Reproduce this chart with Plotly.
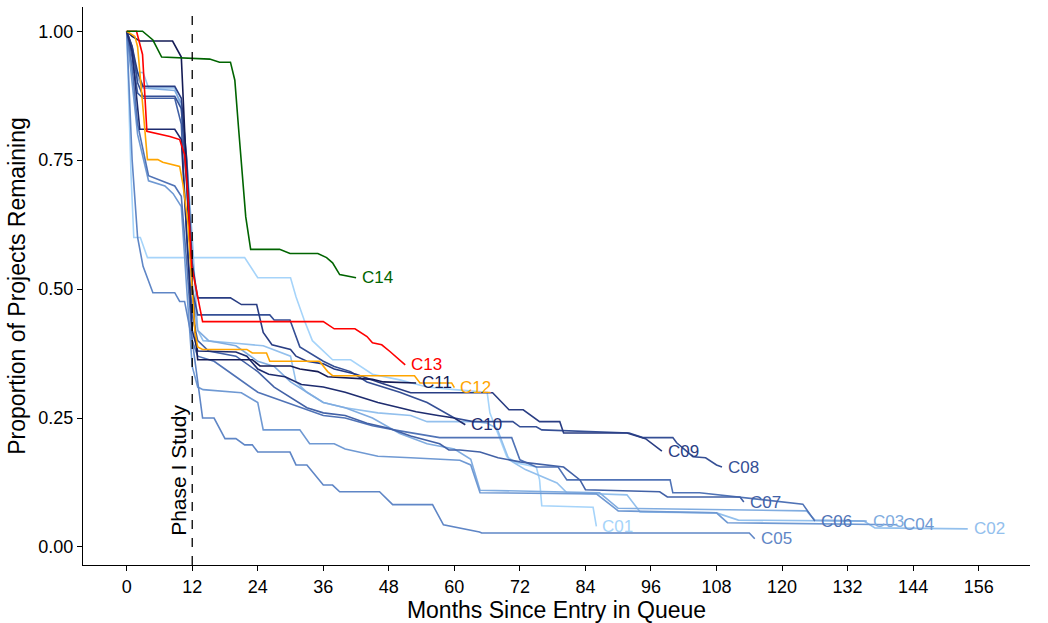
import plotly.graph_objects as go

# ---------------- data (months since entry, proportion remaining) ----------------
c01_months = [0, 0.8, 1.3, 2.5, 3.8, 21.6, 24, 30, 31, 32.5, 34, 37.7, 41, 45, 50, 55, 60, 66, 66.5, 69.6, 71.4, 75, 75.6, 76, 85.4, 86]
c01_values = [1, 0.72, 0.60, 0.60, 0.561, 0.561, 0.522, 0.522, 0.485, 0.44, 0.40, 0.363, 0.363, 0.335, 0.324, 0.31, 0.305, 0.30, 0.26, 0.175, 0.163, 0.155, 0.13, 0.08, 0.077, 0.04]

c02_months = [0, 1, 3, 4, 8.8, 10, 11, 12, 13, 14, 20, 25, 30, 31, 33, 36, 40, 46, 52, 55, 64, 66, 67.8, 70, 73, 78.8, 80.6, 91.6, 94, 108, 112, 135, 137, 154]
c02_values = [1, 0.92, 0.92, 0.89, 0.89, 0.85, 0.75, 0.6, 0.42, 0.40, 0.395, 0.39, 0.37, 0.32, 0.30, 0.28, 0.27, 0.26, 0.255, 0.243, 0.243, 0.24, 0.23, 0.169, 0.15, 0.124, 0.105, 0.101, 0.068, 0.066, 0.052, 0.05, 0.037, 0.035]

c03_months = [0, 1, 2, 3, 8.8, 10, 11, 12, 13, 15, 20, 24, 27, 30, 33, 36, 40, 45, 50, 55, 60, 63, 64.7, 75, 86.6, 90, 124.5, 126, 135.5]
c03_values = [1, 0.96, 0.91, 0.89, 0.885, 0.86, 0.7, 0.5, 0.42, 0.40, 0.39, 0.36, 0.35, 0.32, 0.30, 0.28, 0.27, 0.25, 0.22, 0.20, 0.19, 0.17, 0.11, 0.108, 0.105, 0.075, 0.07, 0.052, 0.05]

c04_months = [0, 1, 2, 4, 7, 8.5, 10, 11, 12, 13, 14, 21, 24, 25, 31.7, 33.5, 38, 40, 46, 52, 61, 63, 64.7, 86, 90, 108, 110, 141]
c04_values = [1, 0.9, 0.8, 0.71, 0.70, 0.685, 0.66, 0.5, 0.35, 0.31, 0.305, 0.299, 0.28, 0.227, 0.227, 0.20, 0.20, 0.19, 0.176, 0.173, 0.168, 0.159, 0.105, 0.103, 0.07, 0.066, 0.047, 0.043]

c05_months = [0, 1, 2, 3, 4.8, 8.8, 9.7, 10.6, 12, 13.9, 16, 18, 20, 21.6, 23, 24, 29.9, 31, 33, 36, 37.7, 39, 46.3, 48.7, 56, 58, 64.6, 65, 114, 115]
c05_values = [1, 0.75, 0.6, 0.544, 0.493, 0.493, 0.476, 0.476, 0.40, 0.25, 0.25, 0.21, 0.21, 0.198, 0.198, 0.184, 0.184, 0.159, 0.159, 0.12, 0.12, 0.107, 0.107, 0.082, 0.082, 0.043, 0.029, 0.027, 0.027, 0.016]

c06_months = [0, 1, 2, 4, 8.8, 10, 11, 12, 13, 16, 20, 24, 28, 32, 36, 40, 45, 50, 57.3, 70.5, 72, 75, 79, 80.6, 99.5, 100, 104.9, 123.8, 126]
c06_values = [1, 0.93, 0.82, 0.72, 0.70, 0.68, 0.55, 0.40, 0.37, 0.36, 0.33, 0.30, 0.285, 0.27, 0.255, 0.25, 0.235, 0.225, 0.212, 0.212, 0.169, 0.155, 0.155, 0.13, 0.13, 0.105, 0.105, 0.083, 0.05]

c07_months = [0, 1, 2, 3, 8.8, 10, 11, 12, 13, 15, 20, 24, 27, 30, 33, 36, 40, 44, 48, 52, 57.3, 59, 61, 64.7, 68, 72, 76, 80, 83, 84, 97.6, 99, 112.3, 113]
c07_values = [1, 0.95, 0.88, 0.87, 0.87, 0.82, 0.6, 0.45, 0.40, 0.38, 0.37, 0.34, 0.31, 0.29, 0.27, 0.26, 0.255, 0.24, 0.23, 0.215, 0.20, 0.188, 0.188, 0.184, 0.173, 0.165, 0.16, 0.155, 0.13, 0.111, 0.107, 0.097, 0.097, 0.087]

c08_months = [0, 1, 2, 3, 8.8, 10, 11, 12, 13, 26.2, 27, 29.9, 31.7, 33, 36, 38, 41, 44, 47, 50, 55, 60, 63.4, 70.7, 72, 75, 76, 92, 94.5, 100, 100.7, 103.7, 106, 108, 109]
c08_values = [1, 0.97, 0.9, 0.874, 0.874, 0.85, 0.7, 0.5, 0.45, 0.45, 0.44, 0.44, 0.388, 0.38, 0.36, 0.35, 0.34, 0.32, 0.31, 0.30, 0.28, 0.25, 0.243, 0.243, 0.233, 0.233, 0.227, 0.221, 0.212, 0.212, 0.202, 0.175, 0.173, 0.159, 0.155]

c09_months = [0, 1, 2, 3, 8.8, 10, 11, 12, 13, 19, 21, 23.8, 25, 26.6, 30, 31, 33, 36, 38, 42, 46, 49, 52, 67, 70, 72.6, 75.6, 79.3, 80, 91.6, 95, 98]
c09_values = [1, 0.97, 0.92, 0.893, 0.893, 0.87, 0.75, 0.55, 0.483, 0.483, 0.47, 0.47, 0.416, 0.392, 0.383, 0.37, 0.36, 0.355, 0.345, 0.335, 0.32, 0.31, 0.299, 0.299, 0.266, 0.266, 0.243, 0.243, 0.221, 0.221, 0.21, 0.186]

c10_months = [0, 1, 2.4, 8.8, 10, 11, 12, 13, 20, 22, 24, 26, 29, 32, 36, 40, 43, 46, 50, 53, 57, 60, 62]
c10_values = [1, 0.96, 0.81, 0.81, 0.79, 0.6, 0.42, 0.38, 0.378, 0.37, 0.345, 0.335, 0.33, 0.315, 0.31, 0.30, 0.29, 0.28, 0.27, 0.262, 0.255, 0.25, 0.237]

c11_months = [0, 1, 2.4, 8.4, 10, 10.6, 11.5, 12.5, 13, 23, 24.4, 30, 31.7, 35, 36.8, 45, 47, 53]
c11_values = [1, 0.99, 0.981, 0.981, 0.95, 0.8, 0.6, 0.42, 0.363, 0.363, 0.351, 0.351, 0.345, 0.34, 0.33, 0.325, 0.32, 0.318]

c12_months = [0, 1.5, 2, 3.3, 3.8, 5.7, 6.6, 9.7, 10.3, 11.2, 12.5, 13, 13.9, 22, 23, 25.6, 26.2, 35.3, 36.8, 37.7, 52.7, 53.7, 59.5, 60]
c12_values = [1, 0.99, 0.97, 0.82, 0.751, 0.751, 0.746, 0.738, 0.703, 0.63, 0.416, 0.388, 0.383, 0.383, 0.376, 0.376, 0.36, 0.36, 0.34, 0.332, 0.332, 0.318, 0.318, 0.309]

c13_months = [0, 1.8, 2.9, 3.7, 7.9, 9.7, 10.6, 11.2, 11.9, 12.8, 13.9, 36, 38, 41.8, 44, 45, 46.7, 48.2, 50, 51]
c13_values = [1, 1.0, 0.955, 0.806, 0.796, 0.79, 0.761, 0.683, 0.544, 0.493, 0.437, 0.437, 0.423, 0.423, 0.408, 0.396, 0.392, 0.379, 0.363, 0.353]

c14_months = [0, 2.9, 4.8, 6.4, 15.2, 17, 19, 19.8, 20.5, 21.8, 22.7, 28, 29.9, 35, 36.6, 37.7, 39, 40.3, 42]
c14_values = [1, 1.0, 0.983, 0.95, 0.946, 0.94, 0.94, 0.905, 0.81, 0.64, 0.577, 0.577, 0.569, 0.569, 0.561, 0.551, 0.528, 0.525, 0.522]

cohort_names = ["C01", "C02", "C03", "C04", "C05", "C06", "C07", "C08", "C09", "C10", "C11", "C12", "C13", "C14"]
cohort_months = [c01_months, c02_months, c03_months, c04_months, c05_months, c06_months, c07_months,
                 c08_months, c09_months, c10_months, c11_months, c12_months, c13_months, c14_months]
cohort_values = [c01_values, c02_values, c03_values, c04_values, c05_values, c06_values, c07_values,
                 c08_values, c09_values, c10_values, c11_values, c12_values, c13_values, c14_values]

x_ticks = [0, 12, 24, 36, 48, 60, 72, 84, 96, 108, 120, 132, 144, 156]
y_ticks = [0.0, 0.25, 0.5, 0.75, 1.0]
phase_month = 12

# ---------------- styles ----------------
colors = ["#a6d4fa", "#93c0ed", "#80ace0", "#6f99d3", "#5f86c6", "#5073b6", "#4261a6",
          "#354f95", "#293d83", "#1e2c6f", "#141b55", "#ffa500", "#ff0000", "#006400"]
FONT = "Liberation Sans, Arial, Helvetica, sans-serif"

fig = go.Figure()
for name, xs, ys, col in zip(cohort_names, cohort_months, cohort_values, colors):
    fig.add_trace(go.Scatter(x=xs, y=ys, mode="lines", name=name,
                             line=dict(color=col, width=1.6), showlegend=False,
                             hoverinfo="x+y+name"))
    fig.add_annotation(x=xs[-1], y=ys[-1], text=name, showarrow=False,
                       xanchor="left", yanchor="middle", xshift=4,
                       font=dict(family=FONT, size=17, color=col))

fig.add_vline(x=phase_month, line=dict(color="black", width=1.3, dash="dash"))
fig.add_annotation(x=phase_month, y=0.148, text="Phase I Study", textangle=-90,
                   showarrow=False, xanchor="center", yanchor="middle", xshift=-14,
                   font=dict(family=FONT, size=21, color="black"))

fig.update_layout(
    width=1048, height=623,
    margin=dict(l=83, r=18, t=7, b=58),
    paper_bgcolor="white", plot_bgcolor="white",
    font=dict(family=FONT, color="black"),
)
fig.update_xaxes(range=[-8.0, 165.4], tickvals=x_ticks, ticktext=[str(t) for t in x_ticks],
                 showline=True, linecolor="black", linewidth=1.3, ticks="outside",
                 ticklen=5, tickcolor="black", tickwidth=1, showgrid=False, zeroline=False,
                 tickfont=dict(family=FONT, size=18, color="black"),
                 title=dict(text="Months Since Entry in Queue", standoff=4,
                            font=dict(family=FONT, size=23, color="black")))
fig.update_yaxes(range=[-0.035, 1.047], tickvals=y_ticks, ticktext=[f"{t:.2f}" for t in y_ticks],
                 showline=True, linecolor="black", linewidth=1.3, ticks="outside",
                 ticklen=5, tickcolor="black", tickwidth=1, showgrid=False, zeroline=False,
                 tickfont=dict(family=FONT, size=18, color="black"),
                 title=dict(text="Proportion of Projects Remaining", standoff=6,
                            font=dict(family=FONT, size=23, color="black")))

fig.write_html("out.html")
